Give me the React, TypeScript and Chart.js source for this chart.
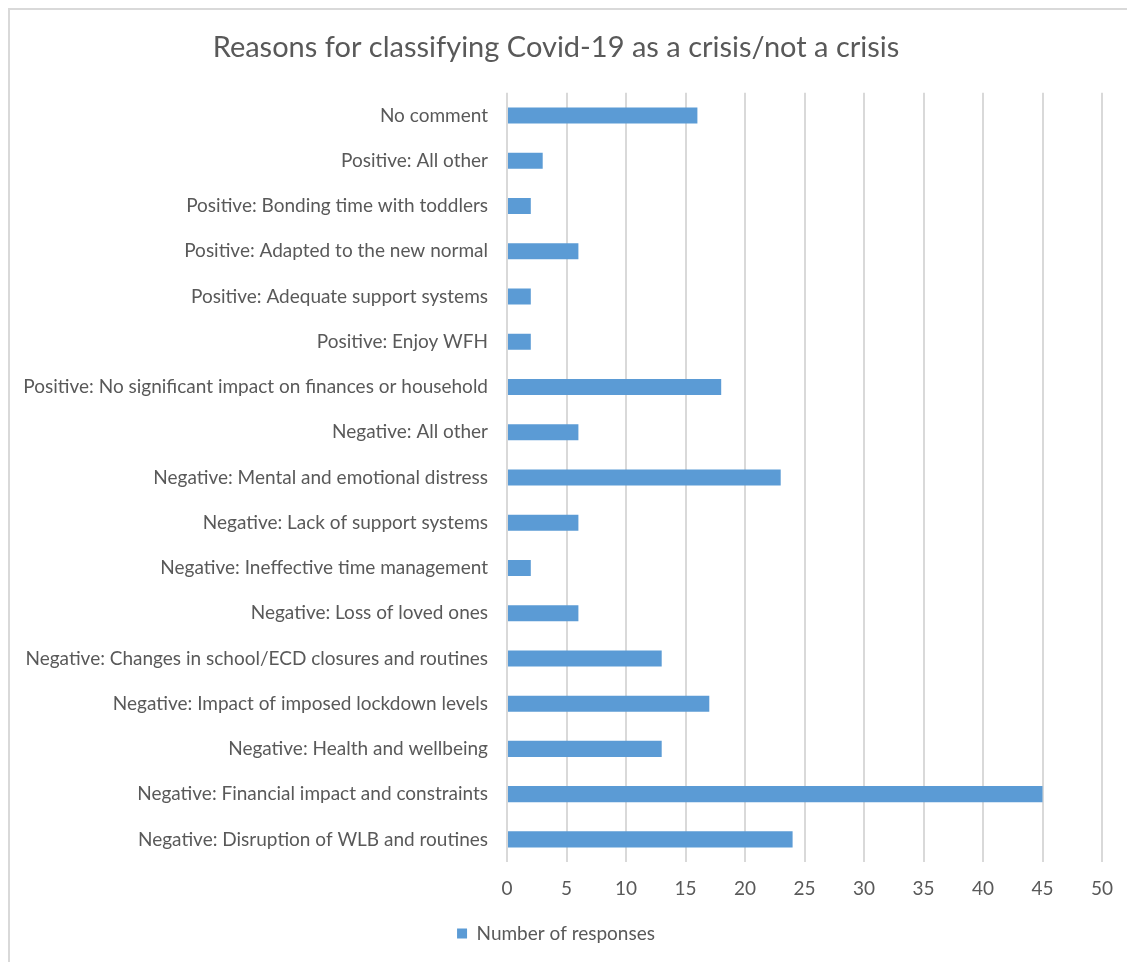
import React, { useEffect, useRef } from "react";
import { Chart, registerables } from "chart.js";

Chart.register(...registerables);

const TITLE = "Reasons for classifying Covid-19 as a crisis/not a crisis";
const SERIES_NAME = "Number of responses";

const categories: string[] = [
  "No comment",
  "Positive: All other",
  "Positive: Bonding time with toddlers",
  "Positive: Adapted to the new normal",
  "Positive: Adequate support systems",
  "Positive: Enjoy WFH",
  "Positive: No significant impact on finances or household",
  "Negative: All other",
  "Negative: Mental and emotional distress",
  "Negative: Lack of support systems",
  "Negative: Ineffective time management",
  "Negative: Loss of loved ones",
  "Negative: Changes in school/ECD closures and routines",
  "Negative: Impact of imposed lockdown levels",
  "Negative: Health and wellbeing",
  "Negative: Financial impact and constraints",
  "Negative: Disruption of WLB and routines",
];

const responses: number[] = [16, 3, 2, 6, 2, 2, 18, 6, 23, 6, 2, 6, 13, 17, 13, 45, 24];

const xMin = 0;
const xMax = 50;
const xStep = 5;

const FONT = "Lato, 'Open Sans', sans-serif";
const TEXT = "#595959";
const GRID = "#d9d9d9";
const BAR = "#5b9bd5";

export default function App() {
  const ref = useRef<HTMLCanvasElement | null>(null);

  useEffect(() => {
    document.documentElement.style.overflow = "hidden";
    document.body.style.overflow = "hidden";
    const canvas = ref.current;
    if (!canvas) return;
    const chart = new Chart(canvas, {
      type: "bar",
      data: {
        labels: categories,
        datasets: [
          {
            label: SERIES_NAME,
            data: responses,
            backgroundColor: BAR,
            borderWidth: 0,
            barPercentage: 0.354,
            categoryPercentage: 1,
          },
        ],
      },
      options: {
        indexAxis: "y",
        animation: false,
        responsive: false,
        maintainAspectRatio: false,
        layout: { padding: { left: 0, right: 33, top: 0, bottom: 9 } },
        plugins: {
          title: {
            display: true,
            text: TITLE,
            color: TEXT,
            font: { family: FONT, size: 29, weight: "normal" },
            padding: { top: 20, bottom: 28 },
          },
          legend: {
            display: true,
            position: "bottom",
            labels: {
              color: TEXT,
              font: { family: FONT, size: 19 },
              boxWidth: 10,
              boxHeight: 10,
              padding: 10,
            },
          },
          tooltip: { enabled: false },
        },
        scales: {
          x: {
            type: "linear",
            min: xMin,
            max: xMax,
            ticks: {
              stepSize: xStep,
              color: TEXT,
              font: { family: FONT, size: 19 },
              padding: 15,
            },
            grid: { color: GRID, lineWidth: 2, drawTicks: false },
            border: { display: false },
            afterFit: (scale: any) => {
              scale.height = 52;
            },
          },
          y: {
            ticks: {
              color: TEXT,
              font: { family: FONT, size: 19 },
              padding: 19,
              autoSkip: false,
            },
            grid: { display: false, drawTicks: false },
            border: { display: false },
            afterFit: (scale: any) => {
              scale.width = 497;
            },
          },
        },
      },
    });
    return () => chart.destroy();
  }, []);

  return (
    <div
      style={{
        borderTop: "2px solid #d9d9d9",
        borderLeft: "2px solid #d9d9d9",
        width: 1125,
        height: 952,
        background: "#fff",
      }}
    >
      <canvas ref={ref} width={1125} height={952} style={{ display: "block" }} />
    </div>
  );
}
